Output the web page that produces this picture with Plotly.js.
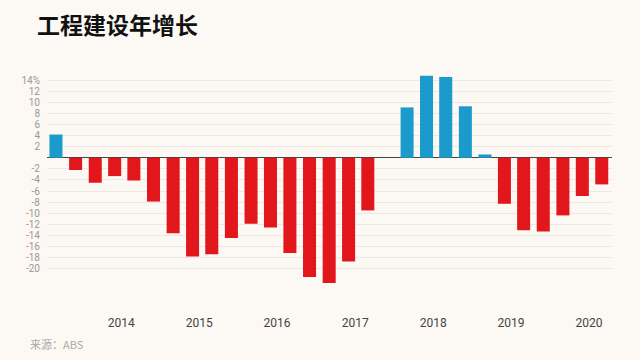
<!DOCTYPE html>
<html>
<head>
<meta charset="utf-8">
<script src="https://cdn.plot.ly/plotly-3.0.1.min.js"></script>
<style>
html,body{margin:0;padding:0;background:#fcf8f3;}
#chart{width:640px;height:360px;}
</style>
</head>
<body>
<div id="chart"></div>
<script>
// Quarterly dates (quarter-end months)
const quarters = [
  "2013-03-01","2013-06-01","2013-09-01","2013-12-01",
  "2014-03-01","2014-06-01","2014-09-01","2014-12-01",
  "2015-03-01","2015-06-01","2015-09-01","2015-12-01",
  "2016-03-01","2016-06-01","2016-09-01","2016-12-01",
  "2017-03-01","2017-06-01","2017-09-01","2017-12-01",
  "2018-03-01","2018-06-01","2018-09-01","2018-12-01",
  "2019-03-01","2019-06-01","2019-09-01","2019-12-01",
  "2020-03-01"
];
// Annual growth, %
const growth = [
  4.2, -2.2, -4.5, -3.3,
  -4.1, -7.9, -13.6, -17.8,
  -17.4, -14.5, -11.9, -12.6,
  -17.2, -21.5, -22.6, -18.7,
  -9.5, 0, 9.1, 14.8,
  14.6, 9.3, 0.6, -8.3,
  -13.1, -13.3, -10.4, -6.9,
  -4.8
];
const yTickVals = [14,12,10,8,6,4,2,-2,-4,-6,-8,-10,-12,-14,-16,-18,-20];
const yTickText = ["14%","12","10","8","6","4","2","-2","-4","-6","-8","-10","-12","-14","-16","-18","-20"];
const yearTicks = ["2014-01-01","2015-01-01","2016-01-01","2017-01-01","2018-01-01","2019-01-01","2020-01-01"];
const yearLabels = ["2014","2015","2016","2017","2018","2019","2020"];

const BLUE = "#1b9bcc", RED = "#e2171c";
const colors = growth.map(v => v >= 0 ? BLUE : RED);

const trace = {
  type: "bar",
  x: quarters,
  y: growth,
  marker: {color: colors},
  width: 61 * 86400000,
  hoverinfo: "x+y"
};

const layout = {
  width: 640, height: 360,
  paper_bgcolor: "#fcf8f3",
  plot_bgcolor: "#fcf8f3",
  margin: {l: 47, r: 28, t: 75, b: 46},
  showlegend: false,
  title: {
    text: "<b>工程建设年增长</b>",
    xref: "container", yref: "container",
    x: 37/640, xanchor: "left",
    y: 1 - 26/360, yanchor: "middle",
    font: {family: "Noto Sans CJK SC", size: 23, color: "#111"}
  },
  xaxis: {
    type: "date",
    range: ["2013-01-18", "2020-04-18"],
    tickvals: yearTicks,
    ticktext: yearLabels,
    showgrid: false,
    zeroline: false,
    showline: false,
    ticks: "",
    tickfont: {family: "Roboto", size: 12, color: "#444"}
  },
  yaxis: {
    range: [-28.2, 14.95],
    tickvals: yTickVals,
    ticktext: yTickText,
    showgrid: true,
    gridcolor: "#ece8e3",
    gridwidth: 1,
    zeroline: true,
    zerolinecolor: "#444",
    zerolinewidth: 1.3,
    ticks: "",
    ticklabelstandoff: 6,
    tickfont: {family: "Roboto", size: 10, color: "#999"}
  },
  annotations: [{
    text: "来源：ABS",
    xref: "paper", yref: "paper",
    x: -19/565, y: -30/239, xanchor: "left", yanchor: "middle",
    showarrow: false,
    font: {family: "Noto Sans CJK SC", size: 11, color: "#aaa"}
  }]
};

Plotly.newPlot("chart", [trace], layout, {displayModeBar: false, staticPlot: true});
</script>
</body>
</html>
